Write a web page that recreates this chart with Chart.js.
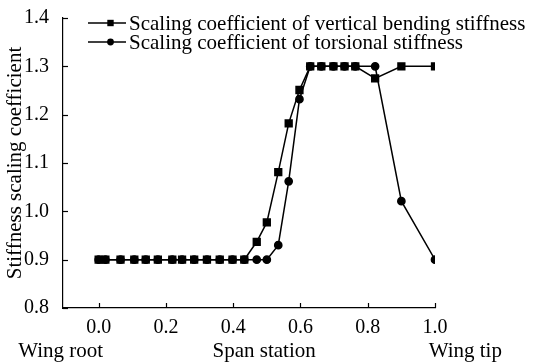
<!DOCTYPE html>
<html>
<head>
<meta charset="utf-8">
<script src="https://cdn.jsdelivr.net/npm/chart.js@4.4.1/dist/chart.umd.min.js"></script>
<style>
  body { margin: 0; background: #fff; }
  #wrap { width: 533px; height: 364px; }
</style>
</head>
<body>
<div id="wrap"><canvas id="stiffChart" width="533" height="364"></canvas></div>
<script>
// span stations (shared by both series)
const spanStations = [0, 0.02, 0.065, 0.106, 0.14, 0.176, 0.219, 0.248, 0.284, 0.322, 0.36, 0.398, 0.433,
    0.47, 0.5, 0.534, 0.565, 0.597, 0.629, 0.662, 0.698, 0.731, 0.763, 0.822, 0.9, 1.0];
const bendingCoef = [0.9, 0.9, 0.9, 0.9, 0.9, 0.9, 0.9, 0.9, 0.9, 0.9, 0.9, 0.9, 0.9,
    0.937, 0.977, 1.081, 1.182, 1.251, 1.3, 1.3, 1.3, 1.3, 1.3, 1.275, 1.3, 1.3];
const torsionCoef = [0.9, 0.9, 0.9, 0.9, 0.9, 0.9, 0.9, 0.9, 0.9, 0.9, 0.9, 0.9, 0.9,
    0.9, 0.9, 0.93, 1.062, 1.232, 1.3, 1.3, 1.3, 1.3, 1.3, 1.3, 1.021, 0.9];
const xTickValues = [0, 0.2, 0.4, 0.6, 0.8, 1.0];
const seriesLabels = ['Scaling coefficient of vertical bending stiffness', 'Scaling coefficient of torsional stiffness'];
const yTitle = 'Stiffness scaling coefficient';
const xTitles = ['Wing root', 'Span station', 'Wing tip'];

const serif = "'Liberation Serif', 'Times New Roman', serif";

function toPoints(ys) {
    return spanStations.map((x, i) => ({ x: x, y: ys[i] }));
}

function drawMarker(ctx, style, x, y, r) {
    ctx.beginPath();
    if (style === 'rect') {
        ctx.rect(x - r, y - r, 2 * r, 2 * r);
    } else {
        ctx.arc(x, y, r, 0, Math.PI * 2);
    }
    ctx.fill();
}

// inward ticks, legend inside the plot, and the labels under the x axis
const extras = {
    id: 'extras',
    afterDraw(chart) {
        const ctx = chart.ctx;
        const xs = chart.scales.x, ys = chart.scales.y;
        const area = chart.chartArea;
        ctx.save();
        ctx.strokeStyle = '#000';
        ctx.fillStyle = '#000';
        ctx.lineWidth = 1.2;
        xs.ticks.forEach(t => {
            const px = Math.round(xs.getPixelForValue(t.value)) + 0.5;
            ctx.beginPath();
            ctx.moveTo(px, area.bottom);
            ctx.lineTo(px, area.bottom - 5);
            ctx.stroke();
        });
        ys.ticks.forEach(t => {
            const py = Math.round(ys.getPixelForValue(t.value)) + 0.5;
            ctx.beginPath();
            ctx.moveTo(area.left, py);
            ctx.lineTo(area.left + 5, py);
            ctx.stroke();
        });

        // legend
        ctx.font = '21px ' + serif;
        ctx.textBaseline = 'middle';
        ctx.textAlign = 'left';
        chart.data.datasets.forEach((ds, i) => {
            const y = 23 + i * 19;
            ctx.lineWidth = 1.5;
            ctx.beginPath();
            ctx.moveTo(88, y);
            ctx.lineTo(126, y);
            ctx.stroke();
            drawMarker(ctx, ds.pointStyle, 110.5, y, ds.pointStyle === 'rect' ? 3.2 : 3.4);
            ctx.fillText(ds.label, 129, y + 1);
        });

        // x axis texts
        const ty = 351;
        ctx.textAlign = 'center';
        ctx.fillText(xTitles[0], xs.getPixelForValue(-0.113), ty);
        ctx.fillText(xTitles[1], xs.getPixelForValue(0.492), ty);
        ctx.fillText(xTitles[2], xs.getPixelForValue(1.09), ty);
        ctx.restore();
    }
};

const ctx = document.getElementById('stiffChart').getContext('2d');
const stiffChart = new Chart(ctx, {
    type: 'line',
    data: {
        datasets: [
            {
                label: seriesLabels[0],
                data: toPoints(bendingCoef),
                borderColor: '#000',
                backgroundColor: '#000',
                borderWidth: 1.5,
                pointStyle: 'rect',
                pointRadius: 4.8,
                tension: 0
            },
            {
                label: seriesLabels[1],
                data: toPoints(torsionCoef),
                borderColor: '#000',
                backgroundColor: '#000',
                borderWidth: 1.5,
                pointStyle: 'circle',
                pointRadius: 3.6,
                tension: 0
            }
        ]
    },
    options: {
        responsive: false,
        animation: false,
        layout: {
            padding: { top: 14, right: 98, left: 0, bottom: 0 }
        },
        plugins: {
            legend: { display: false },
            tooltip: { enabled: false }
        },
        scales: {
            x: {
                type: 'linear',
                min: -0.106,
                max: 1.0,
                afterBuildTicks: function (scale) {
                    scale.ticks = xTickValues.map(v => ({ value: v }));
                },
                afterFit: function (scale) { scale.height = 56; },
                grid: { display: false },
                border: { display: true, color: '#000', width: 1.2 },
                ticks: {
                    color: '#000',
                    padding: 0,
                    maxRotation: 0,
                    font: { family: serif, size: 20 },
                    callback: v => v.toFixed(1)
                }
            },
            y: {
                min: 0.8,
                max: 1.4,
                afterFit: function (scale) { scale.width = 63; },
                grid: { display: false },
                border: { display: true, color: '#000', width: 1.2 },
                ticks: {
                    stepSize: 0.1,
                    color: '#000',
                    padding: 6,
                    font: { family: serif, size: 20 },
                    callback: v => v.toFixed(1)
                },
                title: {
                    display: true,
                    text: yTitle,
                    color: '#000',
                    padding: { top: 3, bottom: 0 },
                    font: { family: serif, size: 21 }
                }
            }
        }
    },
    plugins: [extras]
});
</script>
</body>
</html>
